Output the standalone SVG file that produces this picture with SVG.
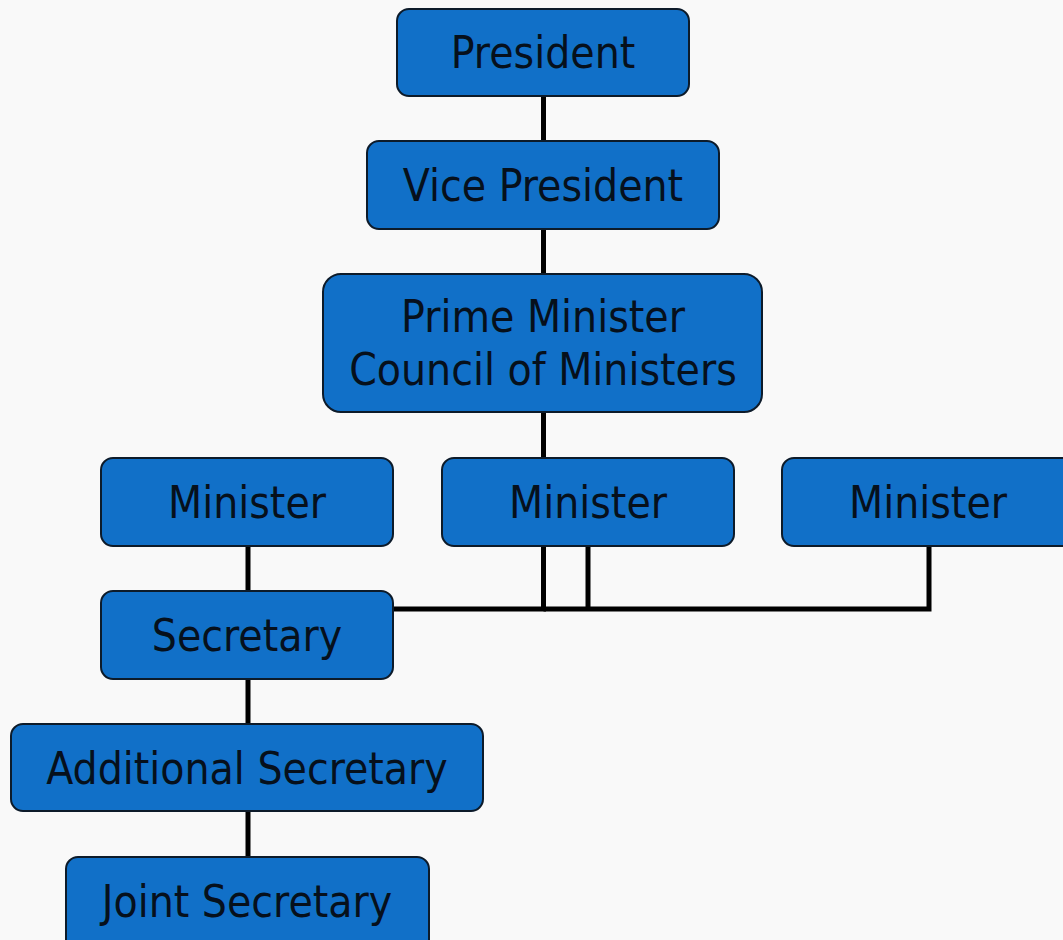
<svg xmlns="http://www.w3.org/2000/svg" width="1063" height="940" viewBox="0 0 1063 940">
  <style>
    .box { fill: #1170c8; stroke: #0d1b2a; stroke-width: 2; }
    .lbl { font-family: "DejaVu Sans Condensed", "DejaVu Sans", Verdana, sans-serif; font-stretch: condensed; font-size: 44px; fill: #06101c; text-anchor: middle; }
    .wire { fill: none; stroke: #000; stroke-width: 5; stroke-linejoin: miter; }
  </style>
  <rect width="1063" height="940" fill="#f9f9f9"/>

  <!-- connectors -->
  <g id="connectors" class="wire">
    <line x1="543.5" y1="96" x2="543.5" y2="141"/>
    <line x1="543.5" y1="229" x2="543.5" y2="274"/>
    <line x1="543.5" y1="412" x2="543.5" y2="458"/>
    <line x1="248" y1="546" x2="248" y2="591"/>
    <line x1="248" y1="679" x2="248" y2="724"/>
    <line x1="248" y1="811" x2="248" y2="857"/>
    <polyline points="543.5,546 543.5,609 393,609"/>
    <polyline points="588,546 588,609"/>
    <polyline points="929,546 929,609 543.5,609"/>
  </g>

  <g id="president">
    <rect class="box" x="397" y="9" width="292" height="87" rx="12"/>
    <text class="lbl" x="543" y="68">President</text>
  </g>
  <g id="vice-president">
    <rect class="box" x="367" y="141" width="352" height="88" rx="12"/>
    <text class="lbl" x="543" y="201">Vice President</text>
  </g>
  <g id="prime-minister">
    <rect class="box" x="323" y="274" width="439" height="138" rx="18"/>
    <text class="lbl" x="543" y="332">Prime Minister</text>
    <text class="lbl" x="543" y="385">Council of Ministers</text>
  </g>
  <g id="minister-left">
    <rect class="box" x="101" y="458" width="292" height="88" rx="12"/>
    <text class="lbl" x="247" y="518">Minister</text>
  </g>
  <g id="minister-centre">
    <rect class="box" x="442" y="458" width="292" height="88" rx="12"/>
    <text class="lbl" x="588" y="518">Minister</text>
  </g>
  <g id="minister-right">
    <rect class="box" x="782" y="458" width="292" height="88" rx="12"/>
    <text class="lbl" x="928" y="518">Minister</text>
  </g>
  <g id="secretary">
    <rect class="box" x="101" y="591" width="292" height="88" rx="12"/>
    <text class="lbl" x="247" y="651">Secretary</text>
  </g>
  <g id="additional-secretary">
    <rect class="box" x="11" y="724" width="472" height="87" rx="12"/>
    <text class="lbl" x="247" y="784">Additional Secretary</text>
  </g>
  <g id="joint-secretary">
    <rect class="box" x="66" y="857" width="363" height="95" rx="12"/>
    <text class="lbl" x="247" y="917">Joint Secretary</text>
  </g>
</svg>
